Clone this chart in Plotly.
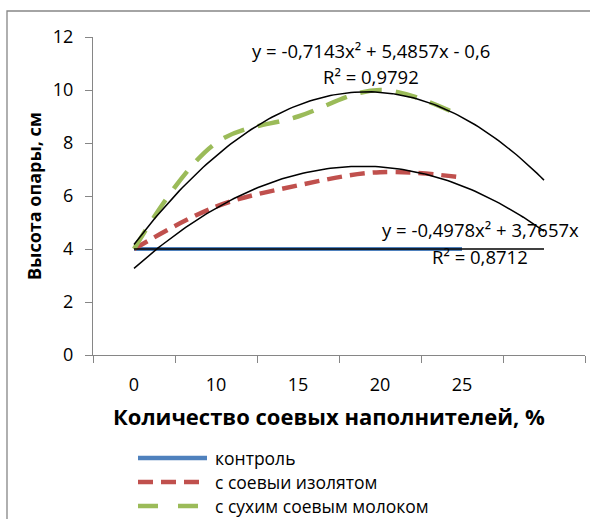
import numpy as np
import plotly.graph_objects as go

# ---------------- data ----------------
categories = ["0", "10", "15", "20", "25", ""]
control = [4, 4, 4, 4, 4]
isolate = [4, 5.6, 6.4, 6.9, 6.7]
milk = [4, 8, 9, 10, 9]
series_names = ["контроль", "с соевыи изолятом", "с сухим соевым молоком"]
# polynomial trendlines (coefficients a2, a1, a0 as displayed)
trend_milk = [-0.7143, 5.4857, -0.6]
trend_isolate = [-0.4978, 3.7657, 0.0]
eq_milk = ["y = -0,7143x² + 5,4857x - 0,6", "R² = 0,9792"]
eq_isolate = ["y = -0,4978x² + 3,7657x", "R² = 0,8712"]
y_title = "Высота опары, см"
x_title = "Количество соевых наполнителей, %"

FONT = "Open Sans"
GREY = "#868686"
BLUE = "#4F81BD"
RED = "#C0504D"
GREEN = "#9BBB59"

xpos = list(range(1, len(control) + 1))
xt = np.linspace(1, len(categories), 120)

fig = go.Figure()
c_ctrl = np.polyfit(xpos, control, 2)
fig.add_trace(go.Scatter(x=xpos, y=control, mode="lines",
                         line=dict(color=BLUE, width=4), showlegend=False))
fig.add_trace(go.Scatter(x=xpos, y=isolate, mode="lines", line_shape="spline",
                         line=dict(color=RED, width=4.5, dash="15px,8px"), showlegend=False))
fig.add_trace(go.Scatter(x=xpos, y=milk, mode="lines", line_shape="spline",
                         line=dict(color=GREEN, width=4.5, dash="22px,14px"), showlegend=False))
for coef in (c_ctrl, trend_milk, trend_isolate):
    fig.add_trace(go.Scatter(x=xt, y=np.polyval(coef, xt), mode="lines",
                             line=dict(color="black", width=1.5), showlegend=False,
                             hoverinfo="skip"))

W, H, L, T = 590, 519, 93, 37
pw, ph = W - L - 5, H - T - 164
def px(xp):
    return (xp - L) / pw
def py(yp):
    return (H - 164 - yp) / ph

n = len(categories)
fig.update_xaxes(range=[0.5, n + 0.5], tickvals=list(range(1, n + 1)), ticktext=categories,
                 ticks="", showline=True, linecolor=GREY, linewidth=1.3, showgrid=False,
                 zeroline=False, tickfont=dict(family=FONT, size=18, color="black"),
                 ticklabelstandoff=13,
                 minor=dict(tickvals=[i + 0.5 for i in range(n + 1)], ticks="outside",
                            ticklen=7, tickcolor=GREY, tickwidth=1.3))
fig.update_yaxes(range=[0, 12], dtick=2, ticks="outside", ticklen=7, tickcolor=GREY, tickwidth=1.3,
                 showline=True, linecolor=GREY, linewidth=1.3, showgrid=False, zeroline=False,
                 tickfont=dict(family=FONT, size=18, color="black"), ticklabelstandoff=8,
                 title=dict(text=f"<b>{y_title}</b>", font=dict(family=FONT, size=18, color="black"),
                            standoff=6))

# x-axis title
fig.add_annotation(xref="paper", yref="paper", x=px(329), y=py(416), text=f"<b>{x_title}</b>",
                   showarrow=False, xanchor="center", yanchor="middle",
                   font=dict(family=FONT, size=22, color="black"))

# equation labels
ann = [
    dict(x=3.89, y=11.50, text=eq_milk[0]),
    dict(x=3.89, y=10.52, text=eq_milk[1]),
    dict(x=5.22, y=4.75, text=eq_isolate[0]),
    dict(x=5.22, y=3.73, text=eq_isolate[1]),
]
for a in ann:
    fig.add_annotation(x=a["x"], y=a["y"], text=a["text"], showarrow=False, xref="x", yref="y",
                       font=dict(family=FONT, size=18.5, color="black"))

# manual legend
leg_styles = [(BLUE, None, 4.5), (RED, "15px,8px", 4.5), (GREEN, "20px,20px", 4.5)]
leg_y = [458, 482, 506]
for (col, dash, w), name, yy in zip(leg_styles, series_names, leg_y):
    fig.add_shape(type="line", xref="paper", yref="paper", x0=px(138), x1=px(207),
                  y0=py(yy), y1=py(yy), line=dict(color=col, width=w, dash=dash or "solid"))
    fig.add_annotation(xref="paper", yref="paper", x=px(213), y=py(yy), text=name,
                       showarrow=False, xanchor="left", yanchor="middle",
                       font=dict(family=FONT, size=17.5, color="black"))

# chart border (only top & left visible)
fig.add_shape(type="rect", xref="paper", yref="paper", x0=px(7), y0=py(560), x1=px(620), y1=py(11),
              line=dict(color=GREY, width=1.3), layer="below")

fig.update_layout(width=W, height=H, margin=dict(l=L, r=5, t=T, b=164),
                  plot_bgcolor="white", paper_bgcolor="white", showlegend=False)
fig.write_html("out.html")
